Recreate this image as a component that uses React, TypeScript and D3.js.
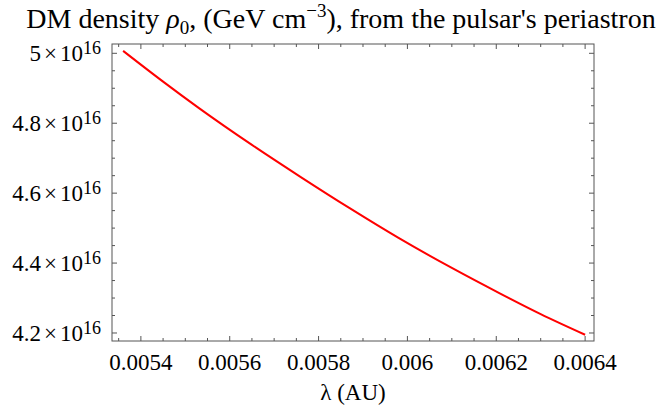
import React from "react";
import * as d3 from "d3";

const lambdaAU = [0.00536, 0.00545, 0.00553, 0.00565, 0.00576, 0.00587, 0.00598, 0.0061, 0.00621, 0.0063, 0.0064];
const rho16 = [5.007, 4.919, 4.844, 4.738, 4.646, 4.557, 4.472, 4.386, 4.312, 4.254, 4.195];
const xMajor = [0.0054, 0.0056, 0.0058, 0.006, 0.0062, 0.0064];
const xMajorLabels = ["0.0054", "0.0056", "0.0058", "0.006", "0.0062", "0.0064"];
const yMajor = [4.2, 4.4, 4.6, 4.8, 5.0];
const yMajorLabels = ["4.2", "4.4", "4.6", "4.8", "5"];

const W = 667, H = 409;
const L = 112, R = 594, T = 44, B = 341;
const FONT = "'Liberation Serif', 'DejaVu Serif', serif";

export default function App() {
  const x = d3.scaleLinear().domain([0.005335, 0.00642]).range([L, R]);
  const y = d3.scaleLinear().domain([4.1771, 5.0266]).range([B, T]);
  const line = d3.line<number>().x((d, i) => x(lambdaAU[i])).y((d) => y(d)).curve(d3.curveMonotoneX);

  const xMinor: number[] = [];
  for (let v = 0.00535; v <= 0.00642; v += 0.00005) {
    const r = Math.round(v * 100000) / 100000;
    if (!xMajor.some((m) => Math.abs(m - r) < 1e-9)) xMinor.push(r);
  }
  const yMinor: number[] = [];
  for (let v = 4.2; v <= 5.02; v += 0.05) {
    const r = Math.round(v * 100) / 100;
    if (!yMajor.some((m) => Math.abs(m - r) < 1e-9)) yMinor.push(r);
  }
  const frame = "#555";
  const maj = 5, mn = 3;

  return (
    <svg width={W} height={H} style={{ position: "absolute", left: 0, top: 0 }} fontFamily={FONT}>
      <rect x={0} y={0} width={W} height={H} fill="white" />
      <text x={341} y={28} textAnchor="middle" fontSize={28} fill="#000">
        DM density <tspan fontStyle="italic">ρ</tspan><tspan fontSize={19} dy={6}>0</tspan>
        <tspan dy={-6}>, (GeV cm</tspan><tspan fontSize={19} dy={-11}>−3</tspan>
        <tspan dy={11}>), from the pulsar's periastron</tspan>
      </text>
      <rect x={L} y={T} width={R - L} height={B - T} fill="none" stroke={frame} strokeWidth={1} />
      {xMajor.map((v) => (
        <g key={"xm" + v}>
          <line x1={x(v)} x2={x(v)} y1={B} y2={B - maj} stroke={frame} />
          <line x1={x(v)} x2={x(v)} y1={T} y2={T + maj} stroke={frame} />
        </g>
      ))}
      {xMinor.map((v) => (
        <g key={"xn" + v}>
          <line x1={x(v)} x2={x(v)} y1={B} y2={B - mn} stroke={frame} />
          <line x1={x(v)} x2={x(v)} y1={T} y2={T + mn} stroke={frame} />
        </g>
      ))}
      {yMajor.map((v) => (
        <g key={"ym" + v}>
          <line x1={L} x2={L + maj} y1={y(v)} y2={y(v)} stroke={frame} />
          <line x1={R} x2={R - maj} y1={y(v)} y2={y(v)} stroke={frame} />
        </g>
      ))}
      {yMinor.map((v) => (
        <g key={"yn" + v}>
          <line x1={L} x2={L + mn} y1={y(v)} y2={y(v)} stroke={frame} />
          <line x1={R} x2={R - mn} y1={y(v)} y2={y(v)} stroke={frame} />
        </g>
      ))}
      {xMajor.map((v, i) => (
        <text key={"xl" + v} x={x(v)} y={370} textAnchor="middle" fontSize={23} fill="#000">
          {xMajorLabels[i]}
        </text>
      ))}
      {yMajor.map((v, i) => (
        <text key={"yl" + v} x={101} y={y(v) + 8} textAnchor="end" fontSize={23} fill="#000">
          {yMajorLabels[i]}<tspan dx={3}>×</tspan><tspan dx={3}>10</tspan><tspan fontSize={18} dy={-7}>16</tspan>
        </text>
      ))}
      <text x={353} y={400} textAnchor="middle" fontSize={23} fill="#000">λ (AU)</text>
      <path d={line(rho16) || ""} fill="none" stroke="#ff0000" strokeWidth={2} />
    </svg>
  );
}
